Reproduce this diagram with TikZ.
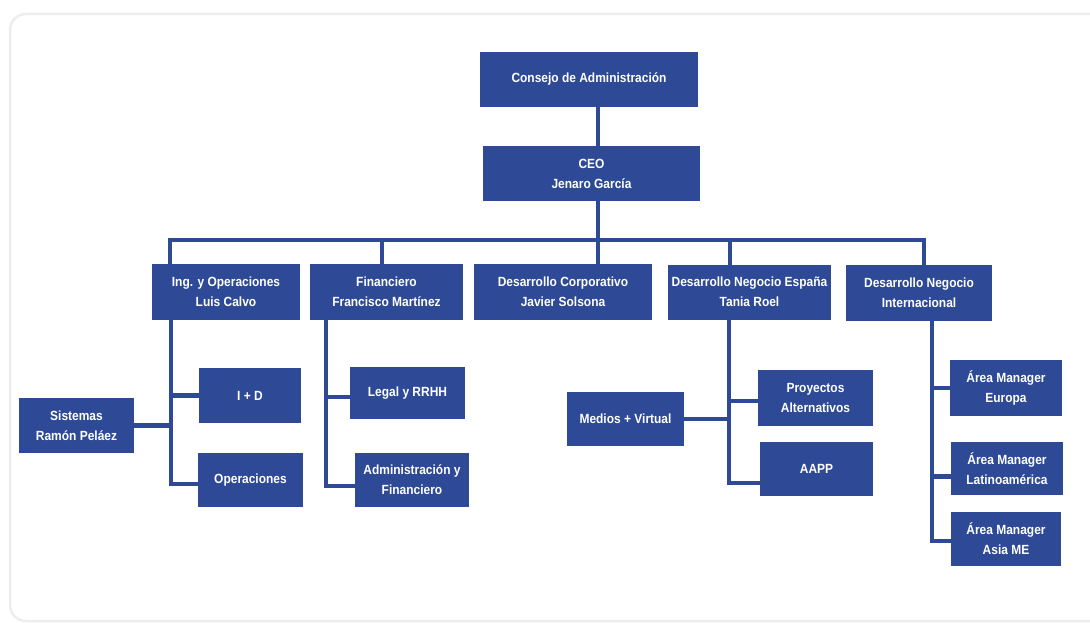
\documentclass[tikz,border=0pt]{standalone}
\usepackage{fontspec}
\setmainfont{Liberation Sans}[FakeStretch=0.9]
\definecolor{orgblue}{HTML}{2E4A96}
\definecolor{framegray}{HTML}{EDEDED}
\begin{document}
\begin{tikzpicture}[x=1pt,y=-1pt,
  box/.style={draw=none, fill=orgblue, text=white, align=center, inner sep=2pt,
    font=\fontsize{13.3}{20}\selectfont\bfseries},
  conn/.style={draw=orgblue, line width=4.5pt, line join=miter, line cap=rect}]
\useasboundingbox (0,0) rectangle (1090,623);
\clip (0,0) rectangle (1090,623);
\draw[framegray, line width=2.5pt, rounded corners=16pt] (10,14) rectangle (1110,621);

% level 0/1
\node[box, minimum width=218pt, minimum height=55pt] (cons) at (589,79.5) {Consejo de Administración};
\node[box, minimum width=217pt, minimum height=55pt] (ceo) at (591.5,173.5) {CEO\\Jenaro García};

% level 2
\node[box, minimum width=148pt, minimum height=56pt] (ing) at (226,292) {Ing. y Operaciones\\Luis Calvo};
\node[box, minimum width=153pt, minimum height=56pt] (fin) at (386.5,292) {Financiero\\Francisco Martínez};
\node[box, minimum width=178pt, minimum height=56pt] (dc) at (563,292) {Desarrollo Corporativo\\Javier Solsona};
\node[box, minimum width=163pt, minimum height=55pt] (esp) at (749.5,292) {Desarrollo Negocio España\\Tania Roel};
\node[box, minimum width=146pt, minimum height=56pt] (int) at (919,293) {Desarrollo Negocio\\Internacional};

% level 3
\node[box, minimum width=102pt, minimum height=55pt] (id) at (250,395.5) {I + D};
\node[box, minimum width=105pt, minimum height=54pt] (ops) at (250.5,480) {Operaciones};
\node[box, minimum width=115pt, minimum height=55pt] (sis) at (76.5,425.5) {Sistemas\\Ramón Peláez};
\node[box, minimum width=115pt, minimum height=52pt] (legal) at (407.5,393) {Legal y RRHH};
\node[box, minimum width=114pt, minimum height=54pt] (adm) at (412,480) {Administración y\\Financiero};
\node[box, minimum width=117pt, minimum height=54pt] (med) at (625.5,419) {Medios + Virtual};
\node[box, minimum width=115pt, minimum height=56pt] (proy) at (815.5,398) {Proyectos\\Alternativos};
\node[box, minimum width=113pt, minimum height=54pt] (aapp) at (816.5,469) {AAPP};
\node[box, minimum width=112pt, minimum height=56pt] (eur) at (1006,388) {Área Manager\\Europa};
\node[box, minimum width=112pt, minimum height=53pt] (lat) at (1007,468.5) {Área Manager\\Latinoamérica};
\node[box, minimum width=110pt, minimum height=54pt] (asia) at (1006,539) {Área Manager\\Asia ME};

% connector coordinates
\coordinate (spine) at (598,240);
\coordinate (busL) at (170,240);
\coordinate (busR) at (924,240);
\coordinate (finD) at (382,240);
\coordinate (espD) at (730,240);
\coordinate (ingT) at (171,0);
\coordinate (finT) at (326,0);
\coordinate (espT) at (729,0);
\coordinate (intT) at (932,0);

% top spine
\draw[conn] (cons.south -| spine) -- (ceo.north -| spine);
\draw[conn] (ceo.south -| spine) -- (dc.north -| spine);
% bus
\draw[conn, line cap=butt] (ing.north -| busL) -- (busL) -- (busR) -- (int.north -| busR);
\draw[conn] (finD) -- (fin.north -| finD);
\draw[conn] (espD) -- (esp.north -| espD);

% Ing. y Operaciones
\draw[conn, line cap=butt] (ing.south -| ingT) |- ([yshift=-4pt]ops.west);
\draw[conn] (id.west -| ingT) -- (id.west);
\draw[conn] (sis.east) -- (sis.east -| ingT);

% Financiero
\draw[conn, line cap=butt] (fin.south -| finT) |- ([yshift=-6pt]adm.west);
\draw[conn] ([yshift=-4pt]legal.west -| finT) -- ([yshift=-4pt]legal.west);

% Desarrollo Negocio España
\draw[conn, line cap=butt] (esp.south -| espT) |- ([yshift=-14pt]aapp.west);
\draw[conn] ([yshift=-3pt]proy.west -| espT) -- ([yshift=-3pt]proy.west);
\draw[conn] (med.east) -- (med.east -| espT);

% Internacional
\draw[conn, line cap=butt] (int.south -| intT) |- ([yshift=-2pt]asia.west);
\draw[conn] (eur.west -| intT) -- (eur.west);
\draw[conn] ([yshift=-8pt]lat.west -| intT) -- ([yshift=-8pt]lat.west);
\end{tikzpicture}
\end{document}
